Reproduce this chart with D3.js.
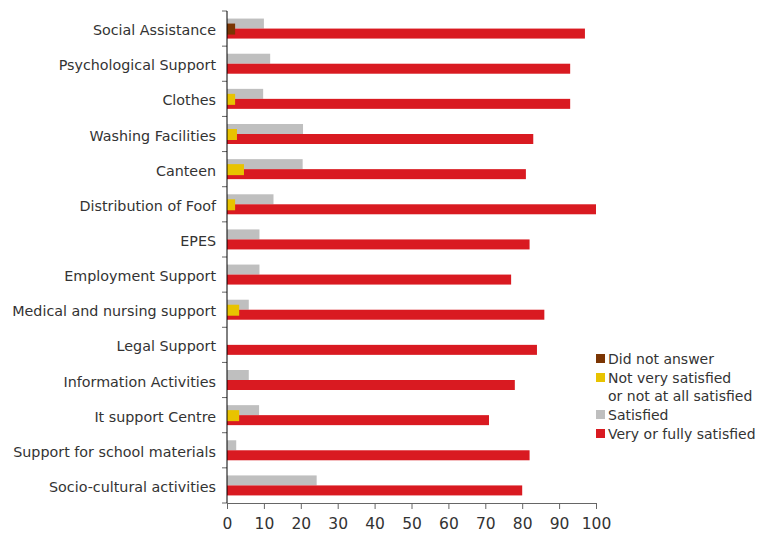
<!DOCTYPE html>
<html>
<head>
<meta charset="utf-8">
<script src="https://cdn.jsdelivr.net/npm/d3@7"></script>
<style>
  body { margin: 0; background: #fff; }
  text { font-family: "DejaVu Sans", sans-serif; fill: #333; }
</style>
</head>
<body>
<svg id="chart"></svg>
<script>
// Chart size
const width = 769;
const height = 534;
const margin = { top: 11, right: 173, bottom: 31, left: 227 };

// Data
const categories = [
    "Social Assistance", "Psychological Support", "Clothes", "Washing Facilities",
    "Canteen", "Distribution of Foof", "EPES", "Employment Support",
    "Medical and nursing support", "Legal Support", "Information Activities",
    "It support Centre", "Support for school materials", "Socio-cultural activities"
];
const veryFully = [97, 93, 93, 83, 81, 100, 82, 77, 86, 84, 78, 71, 82, 80];
const satisfied = [10, 11.7, 9.8, 20.6, 20.5, 12.6, 8.8, 8.8, 5.9, 0, 5.9, 8.7, 2.5, 24.3];
const notVery = [0, 0, 2.2, 2.7, 4.6, 2.2, 0, 0, 3.3, 0, 0, 3.3, 0, 0];
const noAnswer = [2.2, 0, 0, 0, 0, 0, 0, 0, 0, 0, 0, 0, 0, 0];
const xTicks = [0, 10, 20, 30, 40, 50, 60, 70, 80, 90, 100];

const legendItems = [
    { lines: ["Did not answer"], color: "#7b3503" },
    { lines: ["Not very satisfied", "or not at all satisfied"], color: "#e8c300" },
    { lines: ["Satisfied"], color: "#bfbfbf" },
    { lines: ["Very or fully satisfied"], color: "#d91a21" }
];

const svg = d3.select("#chart")
    .attr("width", width)
    .attr("height", height);

const x = d3.scaleLinear()
    .domain([0, 100])
    .range([margin.left, width - margin.right]);

const y = d3.scaleBand()
    .domain(categories)
    .range([margin.top, height - margin.bottom]);

const mid = c => y(c) + y.bandwidth() / 2;

// Grey bars (top half)
svg.append("g").selectAll("rect")
    .data(categories)
    .join("rect")
    .attr("x", x(0))
    .attr("y", d => mid(d) - 10)
    .attr("width", (d, i) => x(satisfied[i]) - x(0))
    .attr("height", 10)
    .attr("fill", "#bfbfbf");

// Red bars (bottom half)
svg.append("g").selectAll("rect")
    .data(categories)
    .join("rect")
    .attr("x", x(0))
    .attr("y", d => mid(d))
    .attr("width", (d, i) => x(veryFully[i]) - x(0))
    .attr("height", 10)
    .attr("fill", "#d91a21");

// Small bars across the middle
svg.append("g").selectAll("rect")
    .data(categories)
    .join("rect")
    .attr("x", x(0))
    .attr("y", d => mid(d) - 5)
    .attr("width", (d, i) => x(notVery[i]) - x(0))
    .attr("height", 11)
    .attr("fill", "#e8c300");

svg.append("g").selectAll("rect")
    .data(categories)
    .join("rect")
    .attr("x", x(0))
    .attr("y", d => mid(d) - 5)
    .attr("width", (d, i) => x(noAnswer[i]) - x(0))
    .attr("height", 11)
    .attr("fill", "#7b3503");

// X axis
const xAxis = svg.append("g")
    .attr("transform", `translate(0,${height - margin.bottom})`)
    .call(d3.axisBottom(x).tickValues(xTicks).tickSize(6).tickSizeOuter(0).tickPadding(9));
xAxis.select(".domain").attr("stroke", "#666");
xAxis.selectAll(".tick line").attr("stroke", "#666");
xAxis.selectAll("text").style("font-size", "15.5px").attr("fill", "#222");

// Y axis with ticks between categories
const yAxis = svg.append("g").attr("transform", `translate(${margin.left},0)`);
yAxis.selectAll("line.sep")
    .data(categories.concat(["end"]))
    .join("line")
    .attr("x1", -5)
    .attr("x2", 0)
    .attr("y1", (d, i) => margin.top + i * y.bandwidth())
    .attr("y2", (d, i) => margin.top + i * y.bandwidth())
    .attr("stroke", "#666");
yAxis.append("line")
    .attr("y1", margin.top)
    .attr("y2", height - margin.bottom)
    .attr("stroke", "#000");
yAxis.selectAll("text")
    .data(categories)
    .join("text")
    .attr("x", -11)
    .attr("y", d => mid(d) + 1.5)
    .attr("dy", "0.35em")
    .attr("text-anchor", "end")
    .style("font-size", "14.3px")
    .text(d => d);

// Legend
const legend = svg.append("g").attr("transform", "translate(596,354)");
let ly = 0;
legendItems.forEach(item => {
    legend.append("rect")
        .attr("x", 0)
        .attr("y", ly)
        .attr("width", 9)
        .attr("height", 9)
        .attr("fill", item.color);
    item.lines.forEach((line, j) => {
        legend.append("text")
            .attr("x", 12)
            .attr("y", ly + 5 + j * 18)
            .attr("dy", "0.35em")
            .style("font-size", "14px")
            .text(line);
    });
    ly += item.lines.length * 18 + 1;
});
</script>
</body>
</html>
